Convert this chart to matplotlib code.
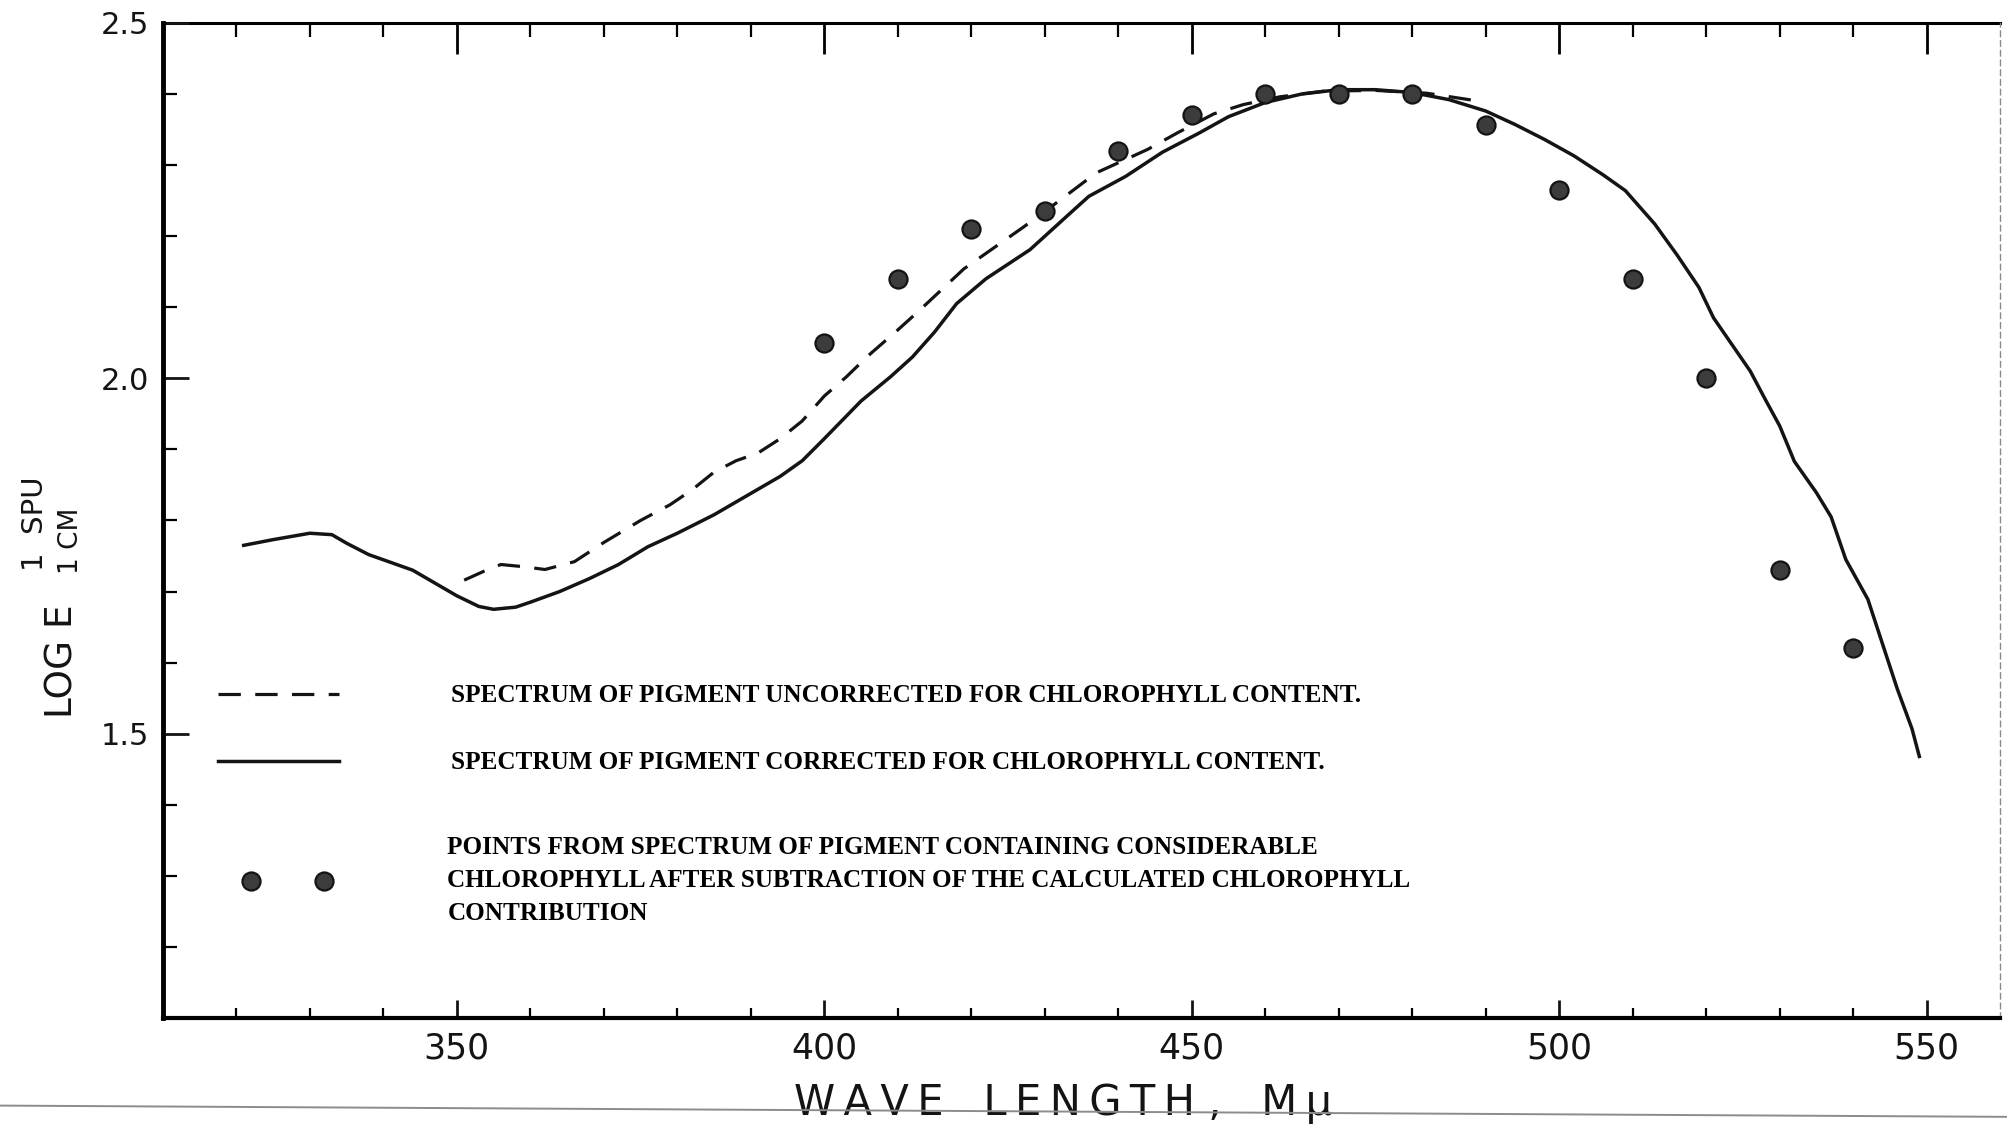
import numpy as np
import matplotlib
matplotlib.use('Agg')
import matplotlib.pyplot as plt
from matplotlib.lines import Line2D
from matplotlib.ticker import FixedLocator

# corrected spectrum (solid curve), wavelength in m-mu
wl_corr = [321, 325, 330, 333, 335, 338, 341, 344, 347, 350, 353, 355, 358, 360,
           364, 368, 372, 376, 380, 385, 390, 394, 397, 400, 405, 409, 412, 415,
           418, 422, 428, 433, 436, 441, 446, 451, 455, 460, 465, 470, 475, 480,
           485, 490, 494, 498, 502, 506, 509, 513, 516, 519, 521, 524, 526, 528,
           530, 532, 535, 537, 539, 542, 544, 546, 548, 549]
loge_corr = [1.765, 1.773, 1.782, 1.780, 1.768, 1.752, 1.741, 1.730, 1.712, 1.694, 1.679, 1.675, 1.678, 1.685,
             1.700, 1.718, 1.738, 1.763, 1.782, 1.808, 1.838, 1.862, 1.884, 1.915, 1.968, 2.002, 2.030, 2.065,
             2.105, 2.140, 2.181, 2.228, 2.256, 2.284, 2.318, 2.345, 2.368, 2.388, 2.400, 2.406, 2.406, 2.402,
             2.392, 2.376, 2.357, 2.336, 2.313, 2.286, 2.264, 2.217, 2.174, 2.128, 2.085, 2.040, 2.010, 1.971,
             1.933, 1.883, 1.839, 1.805, 1.745, 1.689, 1.626, 1.563, 1.507, 1.468]

# uncorrected spectrum (dashed curve)
wl_unc = [351, 354, 356, 359, 362, 366, 370, 375, 379, 382, 385, 388, 391, 394,
          397, 400, 403, 406, 410, 413, 416, 419, 423, 427, 432, 437, 444, 448,
          453, 457, 462, 468, 475, 482, 489]
loge_unc = [1.716, 1.730, 1.738, 1.735, 1.731, 1.742, 1.769, 1.800, 1.822, 1.843, 1.868, 1.884, 1.895, 1.915,
            1.940, 1.975, 2.002, 2.032, 2.068, 2.096, 2.125, 2.154, 2.183, 2.212, 2.250, 2.289, 2.322, 2.345,
            2.372, 2.385, 2.396, 2.404, 2.405, 2.401, 2.390]

# points after subtraction of calculated chlorophyll contribution
wl_pts = [400, 410, 420, 430, 440, 450, 460, 470, 480, 490, 500, 510, 520, 530, 540]
loge_pts = [2.05, 2.14, 2.21, 2.235, 2.32, 2.37, 2.40, 2.40, 2.40, 2.357, 2.265, 2.14, 2.00, 1.73, 1.62]

x_ticks = [350, 400, 450, 500, 550]
x_minor = list(range(320, 551, 10))
y_ticks = [1.5, 2.0, 2.5]
y_minor = [1.2, 1.3, 1.4, 1.6, 1.7, 1.8, 1.9, 2.1, 2.2, 2.3, 2.4]
y_ticklabels = ['1.5', '2.0', '2.5']

label_unc = 'SPECTRUM OF PIGMENT UNCORRECTED FOR CHLOROPHYLL CONTENT.'
label_corr = 'SPECTRUM OF PIGMENT CORRECTED FOR CHLOROPHYLL CONTENT.'
label_pts = ('POINTS FROM SPECTRUM OF PIGMENT CONTAINING CONSIDERABLE\n'
             'CHLOROPHYLL AFTER SUBTRACTION OF THE CALCULATED CHLOROPHYLL\n'
             'CONTRIBUTION')

ink = '#141414'
legend_font = dict(family='Liberation Serif', weight='bold', size=18.1)

fig = plt.figure(figsize=(20.08, 11.27), dpi=100)
ax = fig.add_axes([0.0811, 0.0967, 0.915, 0.883])

dash_line, = ax.plot(wl_unc, loge_unc, color=ink, lw=2.3, linestyle=(0, (7, 4.5)))
solid_line, = ax.plot(wl_corr, loge_corr, color=ink, lw=2.5)
pts, = ax.plot(wl_pts, loge_pts, 'o', ms=13, mfc='#3c3c3c', mec=ink, mew=1.6,
               linestyle='none')

ax.set_xlim(310, 560)
ax.set_ylim(1.1, 2.5)

# bottom ticks
ax.xaxis.set_major_locator(FixedLocator(x_ticks))
ax.xaxis.set_minor_locator(FixedLocator(x_minor))
ax.tick_params(axis='x', which='major', direction='in', length=13, width=2,
               labelsize=25, pad=10, top=False, colors=ink)
ax.tick_params(axis='x', which='minor', direction='in', length=7, width=1.6, top=False)

# left ticks
ax.yaxis.set_major_locator(FixedLocator(y_ticks))
ax.yaxis.set_minor_locator(FixedLocator(y_minor))
ax.set_yticklabels(y_ticklabels)
ax.tick_params(axis='y', which='major', direction='in', length=19, width=2,
               labelsize=22, pad=10, right=False, colors=ink)
ax.tick_params(axis='y', which='minor', direction='in', length=10, width=1.6, right=False)

# top ticks (longer than the bottom ones)
top = ax.secondary_xaxis('top')
top.set_xticks(x_ticks)
top.set_xticks(x_minor, minor=True)
top.tick_params(which='major', direction='in', length=22, width=2, labeltop=False)
top.tick_params(which='minor', direction='in', length=10, width=1.6)
top.spines['top'].set_linewidth(2.2)

ax.spines['top'].set_visible(False)
ax.spines['left'].set_linewidth(3.5)
ax.spines['bottom'].set_linewidth(3.0)
ax.spines['right'].set_linewidth(1.0)
ax.spines['right'].set_color('#8a8a8a')
ax.spines['right'].set_linestyle((0, (4, 3)))

# axis titles
ax.set_xlabel('W\u2009A\u2009V\u2009E   L\u2009E\u2009N\u2009G\u2009T\u2009H ,   M\u2009\u03bc',
              fontsize=30, color=ink, va='top')
ax.xaxis.set_label_coords(0.49, -0.064)

fig.text(0.031, 0.4135, 'LOG E', rotation=90, ha='center', va='center',
         fontsize=27, color=ink)
fig.text(0.0175, 0.535, '1  SPU', rotation=90, ha='center', va='center',
         fontsize=21, color=ink)
fig.text(0.0355, 0.520, '1 CM', rotation=90, ha='center', va='center',
         fontsize=19, color=ink)

# legend block inside the plot
leg1 = ax.legend([dash_line, solid_line], [label_unc, label_corr], loc='center left',
                 bbox_to_anchor=(0.030, 0.29), frameon=False, borderpad=0,
                 borderaxespad=0, handlelength=4.8, handletextpad=4.45,
                 labelspacing=1.75, prop=legend_font)
ax.add_artist(leg1)
leg2 = ax.legend([pts], [label_pts], numpoints=2, loc='center left',
                 bbox_to_anchor=(0.044, 0.138), frameon=False, borderpad=0,
                 borderaxespad=0, handlelength=3.5, handletextpad=4.6,
                 prop=legend_font)
for t in leg2.get_texts():
    t.set_linespacing(1.55)

# faint page rule from the scanned sheet
fig.add_artist(Line2D([0, 1], [0.019, 0.009], transform=fig.transFigure,
                      color='#8c8c8c', lw=1.4))

fig.savefig('out.png', dpi=100, facecolor='white')
